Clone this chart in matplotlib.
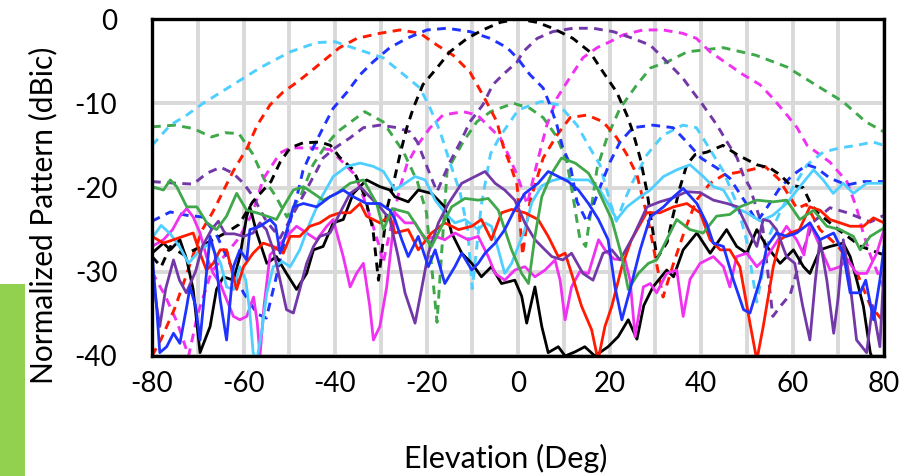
import matplotlib
matplotlib.use("Agg")
import matplotlib.pyplot as plt
from matplotlib.patches import Rectangle

plt.rcParams['font.family'] = ['Lato', 'DejaVu Sans']
plt.rcParams['axes.unicode_minus'] = False

# co-pol beams (dashed)
cyan_co_x = [-80, -76, -72.4, -68.8, -62.3, -56.4, -49.8, -44, -40, -36.7, -29.5, -24.3, -21.4, -19.2, -17,
             -14.9, -12.7, -11, -10, -8, -6, -4, -0.2, 1, 5, 9, 12.9, 15.7, 17.9, 20, 21.5, 23.3, 25.1, 28.2, 31.7,
             36, 39, 40.4, 44.8, 47.9, 50, 52.2, 55, 57.3, 60.1, 63.2, 66.7, 70.4, 74, 77.6, 80]
cyan_co_y = [-15, -12.6, -11.4, -10, -7.8, -5.8, -3.9, -2.8, -2.7, -3.3, -4.6, -6.9, -8.2, -10.6, -13.4,
             -17, -20.5, -25, -32, -22, -16, -14, -11, -10.6, -9.8, -10.2, -12.6, -15.3, -17.3, -21.5, -24, -21.5, -19.3, -16.1, -13.8,
             -12.6, -12.9, -14.1, -18, -22, -26.4, -33.6, -25.6, -22.9, -20, -17.3, -15.8, -15.3, -15, -14.6, -15]

red_co_x = [-80, -78, -75, -73, -71, -69, -66.7, -64.5, -62.3, -59.2, -57, -54.2, -51.4, -48.3, -45.5,
            -41.7, -39, -35.2, -30.2, -25.8, -21.4, -17.7, -14.2, -10.5, -7.7, -4.6, -3.3, -1.7, -0.2, 1,
            2.6, 5.5, 8.5, 11.4, 15.1, 18.6, 21.6, 23.8, 26, 28.5, 31.7, 34, 36.5, 39, 42, 45,
            50, 54, 57, 61, 63, 66, 70, 74, 77, 80]
red_co_y = [-40, -38, -34.3, -31.2, -28, -25, -22.9, -20.5, -18.1, -15.3, -12.6, -10.2, -8.7, -7.5, -6.3,
            -4.6, -3.4, -2.3, -1.7, -1.3, -1.7, -3.1, -4.3, -6.3, -9, -12.2, -15, -17.3, -19.7, -28,
            -21.7, -16.5, -13.8, -11.7, -11.4, -12.2, -14.1, -16.1, -18.5, -24, -33, -29, -25, -21.5, -19.5, -18.5,
            -18, -17.5, -19, -22.5, -22, -25, -27, -30, -34, -36]

blue_co_x = [-80, -76, -72.4, -69, -66, -63, -60, -57, -55, -53, -51.4, -49.8, -48.3, -47, -44.8,
             -42.6, -40.4, -37.4, -34.5, -31.7, -28, -24.3, -19.9, -15.5, -10.5, -6.1, -2.4, -0.2, 2.6, 5.5,
             7, 8.5, 9.8, 11.4, 12.9, 15.1, 17.9, 20.1, 22.3, 25.1, 29.5, 33.9, 36.9, 40, 43.5,
             46.3, 50, 52.2, 54.4, 57.3, 60.1, 63.2, 65.3, 68.2, 71.9, 75.4, 80]
blue_co_y = [-24, -22.9, -23.3, -23.5, -25.5, -29, -32.5, -35, -35.5, -31, -27.2, -24, -21, -18, -15.3,
             -12.9, -10.6, -8.7, -6.6, -5.1, -3.4, -2.3, -1.3, -1.1, -1.5, -2.3, -3.4, -4.6, -6.6, -8.2,
             -10.2, -12.6, -15.3, -17.3, -21.7, -24.1, -20, -17, -14.6, -12.9, -12.6, -12.9, -14.6, -16.5, -17.7,
             -18.9, -22, -24.1, -22.4, -20, -18.5, -17.3, -17.7, -18.9, -19.7, -19.3, -19.3]

black_co_x = [-80, -78, -76, -73, -70, -66, -63.6, -61, -58, -54, -52, -49.8, -47, -43.3, -41,
              -39, -36, -33.5, -31.7, -30.5, -28.6, -27.3, -25.8, -24.3, -22.9, -20.8, -17.7, -14.9, -11.1, -7.7,
              -3.9, 0, 4.2, 7.6, 12, 15.7, 18.6, 21.6, 23.8, 25.1, 26.7, 28.2, 29.5, 30.4, 32.6,
              33.9, 35.4, 36.9, 38.7, 41.3, 44.8, 47.9, 52.2, 55.1, 57.3, 59.5, 62.3, 63.8, 65.3, 70, 75, 80]
black_co_y = [-28.2, -29.4, -27, -28, -27.2, -26, -25.3, -24.4, -21.7, -19.3, -17, -15.3, -14.7, -14.6, -15,
              -16.4, -17.9, -21, -25, -31, -22.4, -19.7, -16.1, -12.9, -10.6, -7.8, -5.8, -3.9, -2.3, -1.3,
              -0.4, 0, -0.4, -1.1, -2.3, -3.9, -6.3, -8.7, -11.4, -13.4, -16.5, -20.5, -25.3, -28.4, -26.5,
              -23.3, -20, -17.3, -16.1, -15.8, -15, -16.1, -17.3, -17.7, -18.5, -19.7, -20, -21.7, -22.9, -25, -27, -28]

purple_co_x = [-80, -74.5, -71, -68, -65, -62.3, -60, -58, -55, -52, -49, -46, -44, -42.6, -40,
               -36.7, -33.8, -30.2, -26.4, -23.6, -22, -19.2, -17.7, -14.9, -12.5, -10.5, -7.7, -5.5, -3.3, -0.2,
               1.1, 4.2, 7.6, 12, 16.4, 20.8, 25.1, 28.9, 32.6, 36, 38.3, 40.4, 43.5, 45.7, 47.9,
               49.2, 50.7, 53.5, 55.7, 57.5, 59.5, 62, 64.5, 68.2, 72, 77, 80]
purple_co_y = [-19.3, -19.5, -19.6, -18.3, -17.6, -18.3, -19.5, -21, -24, -26, -23, -20, -18, -16.5, -15.3,
               -14.1, -12.9, -12.6, -12.9, -13.4, -14.6, -18.5, -20.5, -17, -14.5, -12.2, -10.2, -7.8, -6.6, -5.1,
               -3.9, -2.3, -1.5, -1.1, -1.1, -1.5, -2.3, -3.1, -5.1, -7, -8.7, -10.2, -12.6, -14.6, -16.5,
               -18.5, -20, -24.8, -35.3, -34, -32.7, -28, -24.1, -22.4, -23, -24.1, -23.3]

magenta_co_x = [-80, -77, -74.5, -72, -70, -67, -64, -61, -58, -55.7, -52, -49.8, -44.8, -41, -38.3,
                -36, -34.5, -32, -30.2, -29.5, -27.5, -25.8, -24.3, -22, -19.2, -16.4, -12, -8.9, -6.1, -3.9,
                -2.4, -0.2, 2, 4.2, 6.3, 8.5, 10.7, 14.2, 17.3, 20.1, 22.9, 27.3, 31.7, 36, 39,
                42, 49.2, 52.9, 55.7, 58.8, 61, 63.2, 68.2, 71.9, 74, 75.4, 77, 80]
magenta_co_y = [-30, -33, -36, -40, -35, -30, -28, -26, -23, -19, -15.9, -15.3, -15.3, -15.5, -17,
                -18.3, -20, -24, -27.2, -29, -24, -20, -17.3, -15, -12.9, -11.4, -11, -11.4, -12.9, -14.1,
                -15.8, -18.5, -22, -17, -12.6, -9.4, -7.5, -4.6, -3.4, -2.7, -1.9, -1.3, -1.3, -1.7, -2.3,
                -3.9, -6.6, -7.8, -9.4, -11.4, -12.9, -15, -17, -19.3, -22.4, -25.3, -28, -32]

green_co_x = [-80, -75, -71, -67, -64, -61, -58, -55.5, -53, -50.5, -47.5, -44.8, -42, -39.5, -36,
              -33.5, -29.5, -25, -22, -20, -17.7, -15.5, -12, -9, -6, -1, 2.6, 5.5, 8.5, 10.7,
              12, 13.5, 14.8, 17.3, 19.5, 22.3, 26, 29, 32.6, 37, 44.8, 52, 58.8, 65, 71, 76, 80]
green_co_y = [-12.8, -12.6, -13, -14, -13.5, -13.6, -16, -19, -21, -23.5, -21, -17.3, -15, -13.4, -12,
              -11, -12.2, -15.8, -19.3, -23, -36, -18, -14.6, -12.2, -11, -10, -10.6, -11.7, -14, -17,
              -21, -26, -27, -17.7, -14, -10.6, -7.8, -5.8, -5.1, -3.9, -3.4, -4.3, -5.7, -7.8, -9.8, -12.2, -13.4]

# cross-pol (solid)
black_xp_x = [-80, -77.5, -76, -73.9, -72.4, -71, -69.5, -67.3, -65.9, -64.4, -62.2, -60.8, -59.3, -58.6, -57.1,
              -54.9, -52.8, -50.6, -48.4, -46.2, -44.7, -42.6, -40.4, -38.2, -36, -33.1, -30.2, -28, -26.9, -24,
              -21.8, -18.9, -16, -14.5, -12.3, -10.1, -8, -5.8, -3.6, -0.7, 0.8, 1.9, 3.7, 5.2, 6.6,
              8.8, 10.3, 12.5, 14.6, 16.8, 19.7, 21.9, 24.1, 26, 27.5, 29.5, 32.5, 34, 36.1, 39.1,
              42, 45.6, 47.8, 50, 52.2, 54.4, 57.3, 60.2, 62.4, 63.8, 66, 68.2, 71.1, 72.6, 74,
              75.5, 77, 78, 80]
black_xp_y = [-27.8, -26.6, -27.4, -26.2, -28.6, -32.1, -39.6, -36.5, -32.1, -30.6, -31, -28.2, -23.4, -22.3, -25.4,
              -29, -28.2, -30.2, -32.1, -30.2, -27.4, -27, -24.2, -23.8, -20.7, -19.1, -19.9, -20.3, -21.1, -21.7,
              -20.3, -20.7, -22.3, -25.4, -27.8, -29, -30.6, -29.4, -31.4, -31, -32.9, -36.1, -31.8, -36.5, -39.6,
              -38.9, -40, -39.5, -38.9, -40, -38.9, -37.7, -35.7, -38, -34, -31.8, -29.8, -30.6, -27.4, -25.4,
              -27.8, -25, -27, -27.8, -25, -27, -29, -27.4, -29.4, -30.2, -27.4, -27, -26.6, -28.2, -30.9,
              -34.1, -39.6, -41, -41]

red_xp_x = [-80, -77.5, -75.3, -73.2, -71, -69.5, -68.1, -66.6, -65.1, -63.7, -62.2, -61.5, -60, -57.9, -55.7,
            -53.5, -51.3, -49.8, -47.7, -45.5, -43.3, -41.1, -38.9, -36.7, -34.5, -33.1, -30.2, -28, -26.9, -24,
            -21.8, -18.9, -16, -13, -10.1, -8, -5.8, -3.6, -1.4, 1.5, 4.4, 6.6, 8.8, 10.3, 11.7,
            13.9, 16.1, 17.5, 19, 20.5, 22.7, 24.8, 28.1, 31, 34, 36.9, 39.8, 42, 44.2, 46.3,
            48.5, 50.7, 52.2, 53.6, 55.8, 57.3, 59.5, 61.5, 63.8, 66, 68.2, 70.4, 72.6, 75.5, 77.7, 80]
red_xp_y = [-25.8, -26.6, -26.2, -25.8, -25.4, -27.8, -29.8, -29, -27.4, -27.4, -30.6, -32.1, -29.4, -27.8, -26.6,
            -27, -27.8, -25.8, -25.8, -24.6, -24.2, -23.4, -23, -23, -21.9, -23.4, -24.2, -23.4, -25.4, -25,
            -27.4, -25.4, -24.2, -25, -24.6, -23.8, -26.2, -23, -22.6, -23, -23.8, -25.8, -28.2, -27.8, -30.2,
            -34.1, -36.9, -40.5, -36.5, -34.1, -29.4, -26.2, -23, -23, -22.3, -21.9, -23, -26.2, -27.4, -27.4,
            -29.4, -36.1, -40.5, -36.5, -29.4, -26.2, -25.4, -25, -22.3, -22.7, -23.8, -24.2, -24.6, -24.6, -23.6, -24.2]

green_xp_x = [-80, -77.5, -76, -74.6, -72.4, -70.2, -68, -65.9, -63.7, -61.5, -59.3, -57.1, -54.9, -52.8, -51.3,
              -49.1, -46.9, -44.7, -42.6, -39.6, -36.7, -33.8, -30.9, -29.4, -27.5, -24, -21.1, -18.9, -16.7, -14.5,
              -11.6, -8.7, -6.5, -4.3, -1.4, 0.8, 2.3, 3.7, 5.2, 7.4, 9.5, 12.5, 15.4, 17.5, 20.5,
              22.7, 24.1, 26.3, 28.5, 30.3, 32.5, 34.7, 37.6, 40.5, 43.4, 46.3, 48.5, 52.2, 55.8, 58.7,
              61.6, 64.6, 67.5, 70.4, 73.3, 74.8, 77, 80]
green_xp_y = [-19.9, -20.3, -19.1, -19.9, -22.3, -22.3, -24.2, -25, -23.4, -20.7, -22.7, -23, -23.4, -23.8, -22.3,
              -20.3, -19.9, -20.7, -21.5, -20.7, -19.5, -19.1, -21.9, -25, -22.5, -23, -25.4, -27, -24.6, -22.3,
              -21.3, -21.5, -21.3, -22.7, -27.4, -30.2, -31.4, -25.8, -21.1, -18.3, -16.5, -17.1, -18.3, -20.3, -23.8,
              -28.2, -32.1, -30.2, -29, -28.6, -26.2, -23.8, -25, -25.4, -23.4, -23.2, -22.3, -21.5, -21.7, -21.5,
              -23.8, -22.7, -24.6, -25, -25.8, -27.4, -25.8, -24.8]

cyan_xp_x = [-80, -78, -76, -74, -72, -69.5, -67.3, -65, -63.7, -62.2, -60.8, -59.5, -58.6, -57.9, -57.1,
             -56, -54.9, -53.5, -51.5, -49.8, -47.7, -45.5, -43.3, -40.4, -37.4, -34.5, -31.6, -29.4, -26.9, -24.7,
             -22.5, -20.3, -18.1, -16, -13.8, -11.6, -8.7, -7.2, -5.8, -4.3, -2.9, -1.4, 1.5, 3, 5.2,
             7.4, 9.5, 12.5, 15.4, 17.9, 20.1, 21.6, 23.8, 26.7, 28.9, 31.8, 34.7, 37.6, 40.5, 42.7,
             44.9, 47.1, 50, 53, 55.7, 58.7, 61.6, 64.6, 66.7, 68.9, 71.1, 73.3, 76.2, 80]
cyan_xp_y = [-26, -24.5, -25.5, -27, -29, -27.4, -26.6, -29, -31.8, -32.1, -29.4, -31, -34.9, -39.6, -40.5,
             -37, -32.5, -29.4, -28.8, -29.4, -27.4, -24.2, -21.5, -18.7, -17.5, -17.1, -17.5, -18.1, -20.3, -19.5,
             -18.7, -19.1, -21.5, -23, -24.2, -23.8, -25, -24.2, -24.6, -27.4, -30.2, -29, -25, -21.8, -19.8,
             -19.2, -18.9, -19.1, -19.1, -20.3, -22.3, -23.8, -22.3, -21.1, -20.3, -18.7, -17.9, -17.3, -18.7, -19.9,
             -20.3, -22.3, -23, -24, -23.3, -21.9, -19.9, -17.9, -19.1, -20.7, -19.5, -20.7, -19.5, -19.5]

blue_xp_x = [-80, -79.7, -79, -78.3, -76.8, -75.3, -73.9, -72.4, -71.7, -70.5, -69.5, -68.1, -67.3, -66.2, -65.1,
             -63.7, -62.2, -60.8, -59.3, -58.6, -56.4, -54.2, -53, -52, -50.5, -49.1, -46.9, -44, -41.1, -38.2,
             -36, -33.1, -30.2, -28, -26.9, -25.4, -24, -21.8, -19.6, -18.1, -16, -13.8, -12.3, -10.1, -8.7,
             -7.2, -5, -2.9, -0.7, 1.5, 4.4, 6.6, 8.8, 11, 13.2, 15.4, 17.6, 19.7, 21.2, 22.7,
             24.5, 26.7, 28.9, 31.8, 34, 36.1, 39.1, 41.2, 42.7, 44.9, 47.1, 49.3, 50.7, 52.9, 54.4,
             56.5, 58.7, 60.9, 63.8, 66, 69, 71.1, 72.6, 74.8, 76, 77.7, 79.1, 80]
blue_xp_y = [-27, -29.8, -34.1, -39.6, -38.9, -37.3, -38.5, -34.1, -31.8, -34, -38.1, -30.2, -25.8, -28, -33.3,
             -38.1, -29.4, -27.4, -28.6, -25, -24.6, -23.8, -24.5, -27.8, -25, -22.3, -21.9, -22.3, -21.1, -20.3,
             -21.1, -21.9, -21.9, -22.7, -23.8, -26.2, -28.2, -25.8, -29.4, -27.4, -31.4, -29.4, -27.8, -29.8, -29,
             -27.8, -26.6, -25, -22.6, -20.7, -19.5, -18.1, -18.7, -19.3, -20.3, -21.9, -23.8, -26.2, -31.8, -35.7,
             -32.1, -27.4, -23.5, -22.3, -21.1, -20.1, -21.9, -24.2, -26.6, -27, -31, -34.5, -34.9, -31, -27,
             -25.4, -25.8, -25.4, -24.2, -26.2, -25.4, -27.8, -32.5, -32.5, -31, -35.7, -31, -27]

magenta_xp_x = [-80, -77.5, -75.5, -73.9, -72.4, -71, -69.5, -68.1, -66.6, -65.1, -63.7, -62.2, -60.8, -59.3, -57.8,
                -57, -56.4, -55.5, -54.2, -52.5, -50.6, -48.4, -46.2, -44, -41.8, -40.4, -38.2, -36.7, -35.3, -33.8,
                -32.4, -31.6, -30.2, -28.7, -26.9, -24.7, -22.5, -20.3, -18.1, -16, -13.8, -10.9, -8.7, -6.5, -5,
                -2.9, -0.7, 1.5, 3.7, 5.9, 8.1, 9.2, 10.3, 11.7, 13.5, 15.4, 17.6, 19, 21, 23.4,
                24.5, 25.6, 27.4, 28.9, 30.3, 32.5, 34.7, 36.1, 37.6, 39.8, 42.7, 44.9, 46.3, 47.8, 50,
                52.2, 54.4, 56.5, 58.7, 60.9, 62.5, 63.8, 66, 68.2, 70.4, 72, 74, 76.2, 78.4, 80]
magenta_xp_y = [-27, -26.2, -25, -23.4, -22.5, -23.5, -25.4, -28.2, -30.2, -31.4, -33.3, -35.3, -35.7, -35.3, -33,
                -36, -40, -34, -28, -27, -25.8, -24.6, -25.4, -26.2, -24.6, -23.8, -28.2, -31.8, -30.2, -29,
                -34.1, -38.1, -36.5, -31.8, -23, -24.2, -24.2, -26.2, -25.8, -26.2, -25.4, -26.2, -25.8, -28.2, -30.2,
                -31, -29.8, -29.4, -30.6, -29.8, -28.6, -31, -35.7, -31.8, -30, -30.2, -26.2, -27.4, -28.5, -28.6,
                -31, -37.7, -31.8, -31.4, -32.5, -30.2, -29.8, -35.3, -30.9, -29, -28.2, -29.4, -31.8, -28.2, -27.8,
                -29.4, -28.2, -26.5, -24.6, -26.2, -28, -24.2, -27, -29.8, -29.4, -28.5, -30.2, -30.2, -27.8, -25]

purple_xp_x = [-80, -79, -78.3, -77, -75.3, -74, -72.5, -70.5, -69, -67, -65.5, -64, -62, -60, -57.9,
               -56.4, -55, -53.5, -52, -50.6, -49.1, -47.7, -46.2, -44.7, -43.3, -41.1, -38.9, -36.7, -34.5, -32.4,
               -30.2, -28, -26.2, -24.7, -22.5, -21.1, -19.6, -17.4, -15.2, -12.3, -9.4, -7.2, -5, -2.9, -0.7,
               1.5, 3.7, 5.9, 7.4, 9.8, 11.7, 14.2, 16.4, 18.6, 20.5, 22.3, 25.1, 28.2, 31, 33.5,
               36.9, 39.8, 42.7, 45.7, 48, 50.7, 52.2, 53.6, 55, 56.5, 58.7, 60.5, 62.2, 63.8, 65,
               66, 67.5, 69, 70, 71.1, 72.5, 74, 76.2, 77.5, 79.1, 80]
purple_xp_y = [-30, -34, -36.5, -32, -28.6, -31, -32.5, -30, -27, -25, -24, -25.5, -25.5, -25.8, -25.4,
               -24.2, -25, -27.4, -31, -34.5, -34.9, -32.1, -29, -27, -25.8, -25.4, -23, -20.7, -19.9, -21.1,
               -22.3, -23.8, -28.2, -32.5, -36.1, -32.1, -27.8, -24.2, -21.9, -19.5, -18.7, -18.1, -19.5, -20.3, -21.5,
               -24.2, -26.2, -27.4, -28.2, -28.6, -27.8, -30.2, -31, -27.8, -27.4, -28.6, -25.9, -22.3, -21.7, -21.3,
               -20.5, -20.6, -21.5, -21.9, -22.3, -25.4, -27, -23.8, -24, -25, -28.2, -29, -34, -38.1, -31,
               -26.2, -31, -37.3, -33, -26.2, -31, -38.1, -39.6, -34, -38.9, -29.4]

fig = plt.figure(figsize=(9.22, 4.76), dpi=100)
fig.patches.append(Rectangle((0, 0), 25 / 922, 192 / 476, transform=fig.transFigure,
                             facecolor='#92D050', edgecolor='none', zorder=0))
ax = fig.add_axes([152 / 922, 120 / 476, 732 / 922, 337 / 476])

colors = {'cyan': '#4FCFFF', 'red': '#FF1A00', 'blue': '#1F33FF', 'black': '#000000',
          'purple': '#7338A8', 'magenta': '#F032F0', 'green': '#3FA84A'}

dash = dict(lw=2.1, dashes=(3.0, 2.2))
ax.plot(green_co_x, green_co_y, color=colors['green'], **dash)
ax.plot(magenta_co_x, magenta_co_y, color=colors['magenta'], **dash)
ax.plot(purple_co_x, purple_co_y, color=colors['purple'], **dash)
ax.plot(cyan_co_x, cyan_co_y, color=colors['cyan'], **dash)
ax.plot(red_co_x, red_co_y, color=colors['red'], **dash)
ax.plot(blue_co_x, blue_co_y, color=colors['blue'], **dash)
ax.plot(black_co_x, black_co_y, color=colors['black'], **dash)

solid = dict(lw=2.0, solid_joinstyle='round', solid_capstyle='round')
ax.plot(black_xp_x, black_xp_y, color=colors['black'], **solid)
ax.plot(magenta_xp_x, magenta_xp_y, color=colors['magenta'], **solid)
ax.plot(cyan_xp_x, cyan_xp_y, color=colors['cyan'], **solid)
ax.plot(red_xp_x, red_xp_y, color=colors['red'], **solid)
ax.plot(purple_xp_x, purple_xp_y, color=colors['purple'], **solid)
ax.plot(green_xp_x, green_xp_y, color=colors['green'], **solid)
ax.plot(blue_xp_x, blue_xp_y, color=colors['blue'], **solid)

ax.set_xlim(-80, 80)
ax.set_ylim(-40, 0)
ax.set_xticks(range(-80, 81, 20))
ax.set_xticks(range(-70, 80, 20), minor=True)
ax.set_yticks(range(-40, 1, 10))
ax.grid(which='both', color='#D9D9D9', lw=2.8)
ax.set_axisbelow(True)
ax.tick_params(which='both', length=0, labelsize=20)
ax.tick_params(axis='y', pad=25)
ax.tick_params(axis='x', pad=11)
for s in ax.spines.values():
    s.set_linewidth(2.4)
    s.set_color('black')
    s.set_zorder(5)

fig.text(43 / 922, 1 - 215 / 476, 'Normalized Pattern (dBic)', rotation=90,
         ha='center', va='center', fontsize=21.5)
fig.text(506 / 922, 1 - 458 / 476, 'Elevation (Deg)', ha='center', va='center', fontsize=22)

fig.savefig('out.png', dpi=100)
